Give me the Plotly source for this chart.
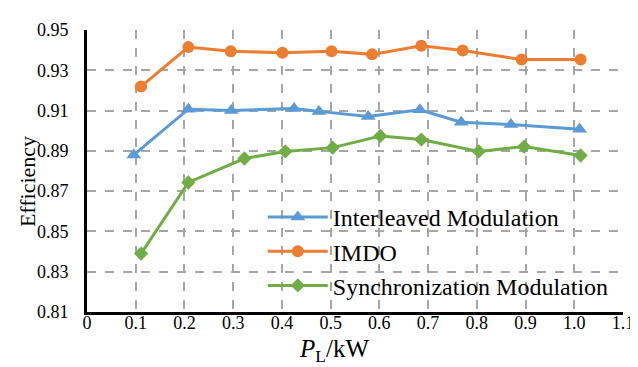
import plotly.graph_objects as go

x_imdo = [0.111, 0.208, 0.295, 0.401, 0.502, 0.585, 0.686, 0.771, 0.892, 1.013]
y_imdo = [0.9220, 0.9415, 0.9395, 0.9387, 0.9395, 0.9379, 0.9422, 0.9398, 0.9353, 0.9353]

x_inter = [0.096, 0.208, 0.296, 0.425, 0.476, 0.577, 0.683, 0.768, 0.870, 1.011]
y_inter = [0.8880, 0.9107, 0.9100, 0.9110, 0.9096, 0.9070, 0.9104, 0.9042, 0.9031, 0.9007]

x_sync = [0.111, 0.208, 0.323, 0.407, 0.504, 0.602, 0.686, 0.804, 0.897, 1.013]
y_sync = [0.8390, 0.8743, 0.8862, 0.8897, 0.8916, 0.8974, 0.8956, 0.8897, 0.8921, 0.8877]

x_ticks = [0, 0.1, 0.2, 0.3, 0.4, 0.5, 0.6, 0.7, 0.8, 0.9, 1.0, 1.1]
x_ticklabels = ["0", "0.1", "0.2", "0.3", "0.4", "0.5", "0.6", "0.7", "0.8", "0.9", "1.0", "1.1"]
y_ticks = [0.81, 0.83, 0.85, 0.87, 0.89, 0.91, 0.93, 0.95]

BLUE = "#5B9BD5"
ORANGE = "#ED7D31"
GREEN = "#70AD47"
FONT = "Liberation Serif, Times New Roman, serif"

fig = go.Figure()
fig.add_trace(go.Scatter(x=x_inter, y=y_inter, mode="lines+markers", name="Interleaved Modulation",
                         line=dict(color=BLUE, width=3),
                         marker=dict(symbol="triangle-up", size=13, color=BLUE)))
fig.add_trace(go.Scatter(x=x_imdo, y=y_imdo, mode="lines+markers", name="IMDO",
                         line=dict(color=ORANGE, width=3),
                         marker=dict(symbol="circle", size=12, color=ORANGE)))
fig.add_trace(go.Scatter(x=x_sync, y=y_sync, mode="lines+markers", name="Synchronization Modulation",
                         line=dict(color=GREEN, width=3),
                         marker=dict(symbol="diamond", size=11, color=GREEN)))

grid = dict(showgrid=True, gridcolor="#A6A6A6", gridwidth=1.5, griddash="dash")

fig.update_layout(
    width=638, height=367,
    margin=dict(l=79, r=20, t=16, b=63),
    paper_bgcolor="white", plot_bgcolor="white",
    font=dict(family=FONT, color="black", size=18),
    showlegend=True,
    legend=dict(x=0.328, y=0.415, xanchor="left", yanchor="top",
                bgcolor="rgba(0,0,0,0)", font=dict(size=24, family=FONT),
                itemwidth=60, tracegroupgap=0),
    xaxis=dict(range=[0, 1.1], tickvals=x_ticks, ticktext=x_ticklabels,
               showline=True, linecolor="black", linewidth=3, zeroline=False,
               ticks="", ticklen=0, ticklabelstandoff=-8, **grid),
    yaxis=dict(range=[0.81, 0.95], tickvals=y_ticks, tickformat=".2f",
               showline=True, linecolor="black", linewidth=3, zeroline=False,
               ticks="", ticklen=0, ticklabelstandoff=12, **grid),
    annotations=[
        dict(text="<i>P</i><sub>L</sub>/kW", x=327, y=343, xref="paper", yref="paper",
             xanchor="center", yanchor="middle",
             showarrow=False, font=dict(size=25, family=FONT)),
        dict(text="Efficiency", x=19, y=171, xref="paper", yref="paper", textangle=-90,
             xanchor="center", yanchor="middle",
             showarrow=False, font=dict(size=22, family=FONT)),
    ],
)
# convert pixel positions of the annotations to paper coordinates
pw, ph = 638 - 79 - 20, 367 - 16 - 63
for a in fig.layout.annotations:
    a.x = (a.x - 79) / pw
    a.y = (367 - 63 - a.y) / ph
fig.write_html("out.html")
